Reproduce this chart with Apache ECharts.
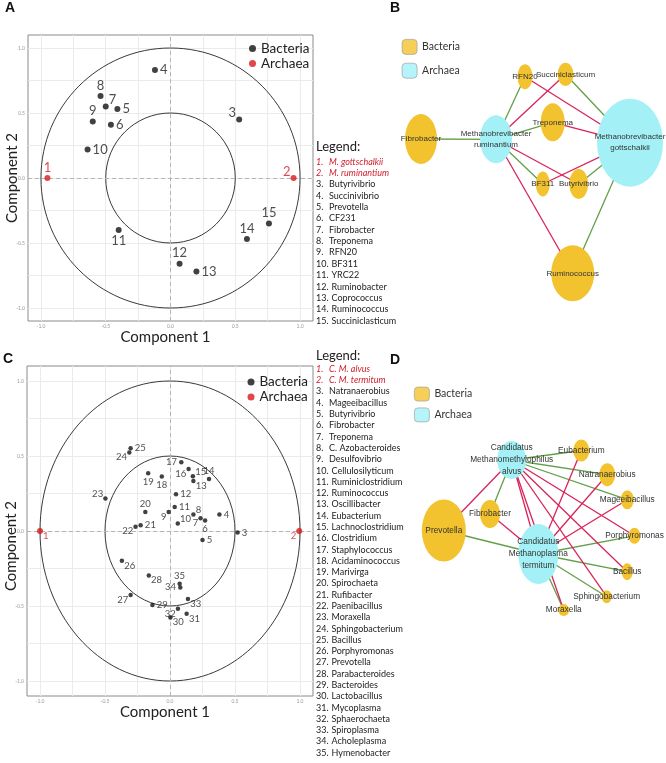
<!DOCTYPE html>
<html><head><meta charset="utf-8">
<script src="https://cdn.jsdelivr.net/npm/echarts@6/dist/echarts.min.js"></script>
<style>html,body{margin:0;padding:0;background:#fff}#c{width:666px;height:763px}</style>
</head><body><div id="c"></div>
<script>
// ---------- Panel A data ----------
const aIds = [1,2,3,4,5,6,7,8,9,10,11,12,13,14,15];
const aX = [-0.95, 0.95, 0.53, -0.12, -0.41, -0.46, -0.50, -0.54, -0.60, -0.64, -0.40, 0.07, 0.20, 0.59, 0.76];
const aY = [0, 0, 0.45, 0.83, 0.53, 0.41, 0.55, 0.63, 0.435, 0.22, -0.40, -0.66, -0.72, -0.47, -0.35];
const aNArchaea = 2;
const aLegendNames = ['M. gottschalkii','M. ruminantium','Butyrivibrio','Succinivibrio','Prevotella','CF231','Fibrobacter','Treponema','RFN20','BF311','YRC22','Ruminobacter','Coprococcus','Ruminococcus','Succiniclasticum'];
// ---------- Panel C data ----------
const cIds = Array.from({length:35}, (_, i) => i + 1);
const cX = [-1.0, 0.994, 0.52, 0.38, 0.25, 0.27, 0.235, 0.18, -0.01, 0.06, 0.036, 0.046, 0.18, 0.30, 0.176, 0.143, 0.087, -0.063, -0.168, -0.19, -0.226, -0.265, -0.497, -0.313, -0.303, -0.37, -0.303, -0.163, -0.135, 0.003, 0.128, 0.061, 0.138, 0.079, 0.074];
const cY = [0, 0, -0.01, 0.11, -0.06, 0.07, 0.085, 0.11, 0.127, 0.05, 0.16, 0.245, 0.334, 0.347, 0.365, 0.414, 0.459, 0.363, 0.385, 0.127, 0.038, 0.029, 0.216, 0.523, 0.552, -0.198, -0.427, -0.296, -0.494, -0.577, -0.552, -0.519, -0.454, -0.376, -0.352];
const cNArchaea = 2;
const cLegendNames = ['C. M. alvus','C. M. termitum','Natranaerobius','Mageeibacillus','Butyrivibrio','Fibrobacter','Treponema','C. Azobacteroides','Desulfovibrio','Cellulosilyticum','Ruminiclostridium','Ruminococcus','Oscillibacter','Eubacterium','Lachnoclostridium','Clostridium','Staphylococcus','Acidaminococcus','Marivirga','Spirochaeta','Rufibacter','Paenibacillus','Moraxella','Sphingobacterium','Bacillus','Porphyromonas','Prevotella','Parabacteroides','Bacteroides','Lactobacillus','Mycoplasma','Sphaerochaeta','Spiroplasma','Acholeplasma','Hymenobacter'];
// reference circles (radius in component units)
const circleRadii = [1, 0.5];
const axisLabelValues = [-1, -0.5, 0, 0.5, 1];
const gridValues = [-1, -0.75, -0.5, -0.25, 0, 0.25, 0.5, 0.75, 1];

// ---------- Panel B network ----------
const bNodeNames = ['Fibrobacter','Methanobrevibacter\nruminantium','Methanobrevibacter\ngottschalkii','RFN20','Succiniclasticum','Treponema','BF311','Butyrivibrio','Ruminococcus'];
const bNodeGroup = ['Bacteria','Archaea','Archaea','Bacteria','Bacteria','Bacteria','Bacteria','Bacteria','Bacteria'];
const bEdgesPositive = [[0,1],[1,3],[1,5],[1,6],[4,2],[7,2],[8,2]];
const bEdgesNegative = [[3,2],[4,1],[5,2],[7,1],[6,2],[8,1]];
// ---------- Panel D network ----------
const dNodeNames = ['Candidatus\nMethanomethylophilus\nalvus','Candidatus\nMethanoplasma\ntermitum','Prevotella','Fibrobacter','Eubacterium','Natranaerobius','Mageeibacillus','Porphyromonas','Bacillus','Sphingobacterium','Moraxella'];
const dNodeGroup = ['Archaea','Archaea','Bacteria','Bacteria','Bacteria','Bacteria','Bacteria','Bacteria','Bacteria','Bacteria','Bacteria'];
const dEdgesPositive = [[0,4],[0,5],[0,6],[0,3],[1,2],[1,7],[1,8],[1,9],[1,10]];
const dEdgesNegative = [[0,2],[0,1],[0,10],[0,9],[0,8],[0,7],[3,1],[1,4],[1,5],[1,6]];

// ---------- layout / style (not data) ----------
const bLayout = [[31,139],[106,139.3],[240,142.7],[135,76.7],[175.5,74.3],[162.7,122.3],[152.8,184],[188.7,184],[182.7,273.3]];
const bSizes = [[32,50],[32,48],[66,88],[15,25],[16,23],[24,38],[14,25],[19,30],[43,56]];
const dLayout = [[121.7,80],[148.3,174],[53.8,150.5],[100,134],[191.3,70.5],[217.2,94.7],[237.3,119.7],[244.5,155.8],[237.2,191.7],[216.7,216.7],[173.7,230]];
const dSizes = [[29,38],[40,60],[44,62],[20,28],[16,22],[16,23],[13,19],[12,16],[11,17],[10,13],[11,12]];
const aLabelPlace = ['t','tl','tl','r','r','r','tr','t','t','r','b','t','r','t','t'];
const cLabelPlace = ['br','bl','r','r','r','b','bl','tr','bl','tr','r','r','br','t','tr','bl','l','b','b','t','r','bl','tl','bl','r','br','bl','br','r','br','br','bl','br','l','t'];

const ORANGE = '#F2C32E', CYAN = '#A3F1F6', RED_EDGE = '#D8245A', GREEN_EDGE = '#62A048';
const PT_RED = '#D7191C', TXT_RED = '#D0202E';
const LATO = 'Lato, "Open Sans", sans-serif';
const NARROW = '"Liberation Sans", Arial, sans-serif';
const ELLIPSE = 'path://M0,50A50,50,0,1,1,100,50A50,50,0,1,1,0,50Z';

function labelFor(code, fs) {
  const d = fs * 0.5;
  const m = {
    r: {position:'right', distance:2}, l: {position:'left', distance:2},
    t: {position:'top', distance:1}, b: {position:'bottom', distance:1},
    tr: {position:'right', distance:0, offset:[0,-d]}, tl: {position:'left', distance:0, offset:[0,-d]},
    br: {position:'right', distance:0, offset:[0,d]}, bl: {position:'left', distance:0, offset:[0,d]}
  };
  return m[code];
}
function pts(ids, xs, ys, place, fs, from, to, color) {
  const out = [];
  for (let i = from; i < to; i++) {
    out.push({value:[xs[i], ys[i]], name:String(ids[i]),
      label: Object.assign({show:true, formatter:String(ids[i]), fontSize:fs, fontFamily:LATO, color:color}, labelFor(place[i], fs))});
  }
  return out;
}
function scatterAxes(gi, nameX, nameY, yPad) {
  const common = {type:'value', gridIndex:gi, min:-1.1, max:1.1,
    axisLine:{show:false},
    axisTick:{show:false, customValues:gridValues},
    axisLabel:{customValues:axisLabelValues, fontSize:5, color:'#999', margin:3, formatter:v => v.toFixed(1), fontFamily:LATO},
    splitLine:{show:true, lineStyle:{color:'#EBEBEB', width:1}},
    nameLocation:'middle', nameMoveOverlap:false};
  return {
    x: Object.assign({}, common, {name:nameX, nameGap:9, nameTextStyle:{fontSize:15, fontFamily:LATO, color:'#222', padding:[0,10,0,0]}}),
    y: Object.assign({}, common, {name:nameY, nameGap:8, nameTextStyle:{fontSize:15, fontFamily:LATO, color:'#222', padding:yPad}})
  };
}
const axA = scatterAxes(0, 'Component 1', 'Component 2', [0,0,0,0]);
const axC = scatterAxes(1, 'Component 1', 'Component 2', [0,30,0,0]);

function circleSeries(xi) {
  return {type:'custom', xAxisIndex:xi, yAxisIndex:xi, silent:true, z:2, clip:false,
    data: circleRadii.map(r => [0, 0, r]),
    renderItem: (params, api) => {
      const c = api.coord([api.value(0), api.value(1)]);
      const s = api.size([api.value(2), api.value(2)]);
      return {type:'ellipse', shape:{cx:c[0], cy:c[1], rx:s[0], ry:s[1]}, style:{fill:'none', stroke:'#3a3a3a', lineWidth:1}};
    }};
}
function zeroLines(xi) {
  return {type:'scatter', xAxisIndex:xi, yAxisIndex:xi, data:[], silent:true, z:1,
    markLine:{silent:true, symbol:'none', label:{show:false}, animation:false,
      lineStyle:{type:[4,3], color:'#B5B5B5', width:1}, data:[{xAxis:0},{yAxis:0}]}};
}
function netSeries(gi, names, groups, layout, sizes, pos, neg, fs, lh) {
  const links = pos.map(e => ({source:e[0], target:e[1], lineStyle:{color:GREEN_EDGE}}))
    .concat(neg.map(e => ({source:e[0], target:e[1], lineStyle:{color:RED_EDGE}})));
  return {type:'graph', coordinateSystem:'cartesian2d', xAxisIndex:gi, yAxisIndex:gi, silent:true, z:3,
    categories:[{name:'Bacteria', itemStyle:{color:ORANGE}}, {name:'Archaea', itemStyle:{color:CYAN}}],
    data: names.map((n, i) => ({name:n, value:layout[i], symbol:ELLIPSE, symbolSize:sizes[i], category: groups[i] === 'Bacteria' ? 0 : 1})),
    links: links,
    lineStyle:{width:1.3, opacity:1, curveness:0},
    label:{show:true, position:'inside', fontSize:fs, lineHeight:lh, fontFamily:NARROW, color:'#333'},
    emphasis:{disabled:true}};
}
function listEls(x0, xName, xName2, yTitle, y0, step, names, nRed) {
  const els = [{type:'text', x:x0, y:yTitle, style:{text:'Legend:', fontSize:13, fontFamily:LATO, fill:'#222', verticalAlign:'middle'}}];
  names.forEach((nm, i) => {
    const red = i < nRed;
    const st = {fontSize:9, fontFamily:LATO, fill: red ? TXT_RED : '#222', fontStyle: red ? 'italic' : 'normal', verticalAlign:'middle'};
    els.push({type:'text', x:x0, y:y0 + i*step, style:Object.assign({text:(i+1) + '.'}, st)});
    els.push({type:'text', x:(i + 1) < 10 ? xName : xName2, y:y0 + i*step, style:Object.assign({text:nm}, st)});
  });
  return els;
}
const panelLetter = (t, x, y) => ({type:'text', x:x, y:y, style:{text:t, fontSize:14, fontWeight:'bold', fontFamily:'"Liberation Sans", Arial, sans-serif', fill:'#111'}});

const nA = aIds.length, nC = cIds.length;
const option = {
  animation:false,
  backgroundColor:'#fff',
  grid:[
    {left:28, top:35, width:285, height:286, show:true, borderColor:'#8a8a8a', borderWidth:1, backgroundColor:'#fff'},
    {left:27, top:366, width:286, height:330, show:true, borderColor:'#8a8a8a', borderWidth:1, backgroundColor:'#fff'},
    {left:390, top:0, width:276, height:330, show:false},
    {left:390, top:380, width:276, height:260, show:false}
  ],
  xAxis:[axA.x, axC.x,
    {type:'value', gridIndex:2, min:0, max:276, show:false},
    {type:'value', gridIndex:3, min:0, max:276, show:false}],
  yAxis:[axA.y, axC.y,
    {type:'value', gridIndex:2, min:0, max:330, inverse:true, show:false},
    {type:'value', gridIndex:3, min:0, max:260, inverse:true, show:false}],
  legend:[
    {left:249, top:41.5, orient:'vertical', itemWidth:7, itemHeight:7, itemGap:1, padding:0, selectedMode:false,
      data:[{name:'Bacteria', icon:'circle', itemStyle:{color:'#111'}}, {name:'Archaea', icon:'circle', itemStyle:{color:PT_RED}}],
      textStyle:{fontSize:13.5, fontFamily:LATO, color:'#222'}},
    {left:247.5, top:375, orient:'vertical', itemWidth:7, itemHeight:7, itemGap:1, padding:0, selectedMode:false,
      data:[{name:'Bacteria', icon:'circle', itemStyle:{color:'#111'}}, {name:'Archaea', icon:'circle', itemStyle:{color:PT_RED}}],
      textStyle:{fontSize:13.5, fontFamily:LATO, color:'#222'}},
    {left:401.7, top:39, orient:'vertical', itemWidth:15, itemHeight:15, itemGap:8, padding:0, selectedMode:false,
      data:[{name:'Bacteria', icon:'roundRect', itemStyle:{color:ORANGE, borderColor:'#9a9a9a', borderWidth:0.8}},
            {name:'Archaea', icon:'roundRect', itemStyle:{color:CYAN, borderColor:'#9a9a9a', borderWidth:0.8}}],
      textStyle:{fontSize:10.5, fontFamily:LATO, color:'#333'}},
    {left:414, top:386.7, orient:'vertical', itemWidth:15, itemHeight:14, itemGap:6, padding:0, selectedMode:false,
      data:[{name:'Bacteria', icon:'roundRect', itemStyle:{color:ORANGE, borderColor:'#9a9a9a', borderWidth:0.8}},
            {name:'Archaea', icon:'roundRect', itemStyle:{color:CYAN, borderColor:'#9a9a9a', borderWidth:0.8}}],
      textStyle:{fontSize:10.5, fontFamily:LATO, color:'#333'}}
  ],
  series:[
    zeroLines(0), circleSeries(0),
    {type:'scatter', name:'Bacteria', xAxisIndex:0, yAxisIndex:0, z:5, symbolSize:6, itemStyle:{color:'#111'},
      data:pts(aIds, aX, aY, aLabelPlace, 13, aNArchaea, nA, '#222')},
    {type:'scatter', name:'Archaea', xAxisIndex:0, yAxisIndex:0, z:5, symbolSize:6, itemStyle:{color:PT_RED},
      data:pts(aIds, aX, aY, aLabelPlace, 13, 0, aNArchaea, TXT_RED)},
    zeroLines(1), circleSeries(1),
    {type:'scatter', name:'Bacteria', xAxisIndex:1, yAxisIndex:1, z:5, symbolSize:4.5, itemStyle:{color:'#111'},
      data:pts(cIds, cX, cY, cLabelPlace, 9.5, cNArchaea, nC, '#222')},
    {type:'scatter', name:'Archaea', xAxisIndex:1, yAxisIndex:1, z:5, symbolSize:6, itemStyle:{color:PT_RED},
      data:pts(cIds, cX, cY, cLabelPlace, 9.5, 0, cNArchaea, TXT_RED)},
    netSeries(2, bNodeNames, bNodeGroup, bLayout, bSizes, bEdgesPositive, bEdgesNegative, 8, 11),
    netSeries(3, dNodeNames, dNodeGroup, dLayout, dSizes, dEdgesPositive, dEdgesNegative, 8.3, 12)
  ],
  graphic:[
    panelLetter('A', 5, 1), panelLetter('B', 390, 1), panelLetter('C', 3, 352), panelLetter('D', 390, 353)
  ].concat(listEls(316, 329, 331.5, 147, 161.7, 11.36, aLegendNames, aNArchaea))
   .concat(listEls(316, 329, 331.5, 356, 369, 11.29, cLegendNames, cNArchaea))
};
const chart = echarts.init(document.getElementById('c'), null, {renderer:'canvas'});
chart.setOption(option);
</script></body></html>
